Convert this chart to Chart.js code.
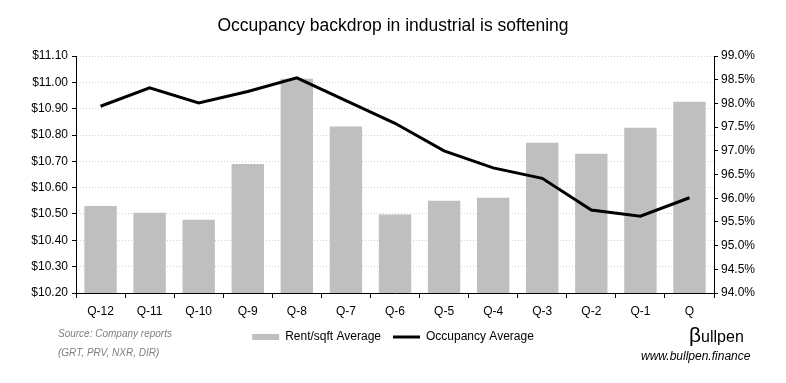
<!DOCTYPE html>
<html>
<head>
<meta charset="utf-8">
<script src="https://cdn.jsdelivr.net/npm/chart.js@4.4.1/dist/chart.umd.min.js"></script>
<style>
  html, body { margin: 0; padding: 0; background: #fff; }
  #wrap { position: relative; width: 786px; height: 383px; font-family: "Liberation Sans", Arial, sans-serif; }
  #title { position: absolute; left: 0; top: 15px; width: 786px; text-align: center; font-size: 17.5px; color: #000; }
  #chart-box { position: absolute; left: 0; top: 0; width: 786px; height: 383px; }
  .src { position: absolute; left: 58px; font-size: 10px; font-style: italic; color: #7f7f7f; }
  #logo { position: absolute; left: 689px; top: 323px; font-size: 16px; color: #000; }
  #logo span { font-size: 21px; }
  #site { position: absolute; left: 641px; top: 349px; font-size: 12px; font-style: italic; color: #000; }
</style>
</head>
<body>
<div id="wrap">
  <div id="chart-box"><canvas id="occ-chart" width="786" height="383"></canvas></div>
  <div id="title">Occupancy backdrop in industrial is softening</div>
  <div class="src" style="top:328px">Source: Company reports</div>
  <div class="src" style="top:347px">(GRT, PRV, NXR, DIR)</div>
  <div id="logo"><span>&#946;</span>ullpen</div>
  <div id="site">www.bullpen.finance</div>
</div>
<script>
  // quarters, oldest first
  const quarters = ['Q-12', 'Q-11', 'Q-10', 'Q-9', 'Q-8', 'Q-7', 'Q-6', 'Q-5', 'Q-4', 'Q-3', 'Q-2', 'Q-1', 'Q'];

  // $ per sqft (left axis)
  const rentAvg = [10.53, 10.505, 10.478, 10.69, 11.014, 10.832, 10.498, 10.55, 10.562, 10.771, 10.729, 10.828, 10.926];

  // occupancy % (right axis)
  const occupancyAvg = [97.94, 98.33, 98.01, 98.25, 98.54, 98.06, 97.58, 97.0, 96.64, 96.42, 95.75, 95.62, 96.01];

  const rentTicks = { min: 10.2, max: 11.1, step: 0.1 };
  const occTicks = { min: 94, max: 99, step: 0.5 };

  const baseFont = '"Liberation Sans", Arial, sans-serif';

  new Chart(document.getElementById('occ-chart'), {
    type: 'bar',
    data: {
      labels: quarters,
      datasets: [
        {
          type: 'line',
          label: 'Occupancy Average',
          data: occupancyAvg,
          yAxisID: 'y1',
          borderColor: '#000',
          backgroundColor: '#000',
          borderWidth: 3,
          pointRadius: 0,
          tension: 0,
          order: 0,
        },
        {
          label: 'Rent/sqft Average',
          data: rentAvg,
          yAxisID: 'y',
          backgroundColor: '#bfbfbf',
          barPercentage: 0.66,
          categoryPercentage: 1,
          order: 1,
        },
      ],
    },
    options: {
      responsive: false,
      animation: false,
      layout: { padding: { top: 56, left: 0, right: 0, bottom: 30 } },
      plugins: {
        tooltip: { enabled: false },
        legend: {
          position: 'bottom',
          labels: {
            color: '#000',
            font: { family: baseFont, size: 12 },
            usePointStyle: true,
            pointStyleWidth: 27,
            boxHeight: 6,
            padding: 12,
            generateLabels: function (chart) {
              return [
                { text: 'Rent/sqft Average', fillStyle: '#bfbfbf', strokeStyle: '#bfbfbf', lineWidth: 0, pointStyle: 'rect', datasetIndex: 1 },
                { text: 'Occupancy Average', fillStyle: '#000', strokeStyle: '#000', lineWidth: 3, pointStyle: 'line', datasetIndex: 0 },
              ];
            },
          },
        },
      },
      scales: {
        x: {
          grid: { drawOnChartArea: false, color: '#000', tickColor: '#000', tickLength: 5, offset: true },
          border: { color: '#000', width: 1 },
          ticks: { color: '#000', font: { family: baseFont, size: 12 }, padding: 6 },
          afterFit: function (scale) { scale.height = 26; },
        },
        y: {
          position: 'left',
          min: rentTicks.min,
          max: rentTicks.max,
          ticks: {
            stepSize: rentTicks.step,
            color: '#000',
            font: { family: baseFont, size: 12 },
            padding: 4,
            callback: function (v) { return '$' + Number(v).toFixed(2); },
          },
          grid: { color: '#d0d0d0', tickColor: '#000', tickLength: 4, lineWidth: 1, tickBorderDash: [] },
          border: { color: '#000', width: 1, dash: [1, 2] },
          afterFit: function (scale) { scale.width = 76; },
        },
        y1: {
          position: 'right',
          min: occTicks.min,
          max: occTicks.max,
          ticks: {
            stepSize: occTicks.step,
            color: '#000',
            font: { family: baseFont, size: 12 },
            padding: 3,
            callback: function (v) { return Number(v).toFixed(1) + '%'; },
          },
          grid: { drawOnChartArea: false, tickColor: '#000', tickLength: 4 },
          border: { color: '#000', width: 1 },
          afterFit: function (scale) { scale.width = 72; },
        },
      },
    },
  });
</script>
</body>
</html>
